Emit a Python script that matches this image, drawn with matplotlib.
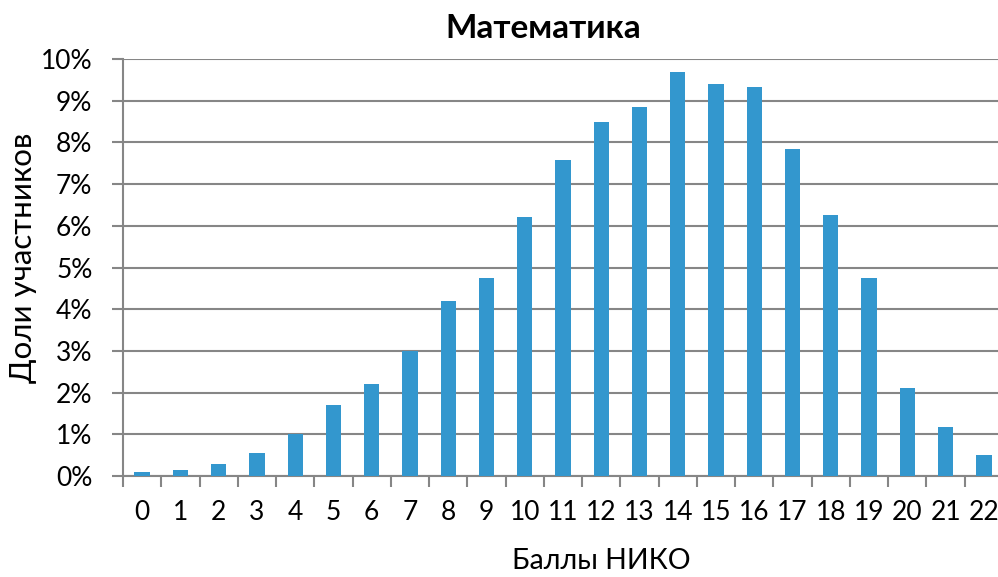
import matplotlib.pyplot as plt
import numpy as np
from matplotlib.ticker import FuncFormatter

plt.rcParams['font.family'] = ['Lato', 'DejaVu Sans']

# баллы и доли участников (%)
scores = list(range(23))
shares = [0.09, 0.15, 0.29, 0.54, 1.00, 1.70, 2.20, 3.00, 4.20, 4.75,
          6.20, 7.57, 8.48, 8.86, 9.70, 9.39, 9.33, 7.84, 6.27, 4.74,
          2.10, 1.17, 0.50]
y_ticks = list(range(0, 11))

title = "Математика"
x_label = "Баллы НИКО"
y_label = "Доли участников"

bar_color = '#3397CE'
grid_color = '#868686'

fig = plt.figure(figsize=(9.98, 5.77), dpi=100)
ax = fig.add_axes([123 / 998, 101 / 577, 880 / 998, 417 / 577])

x = np.arange(len(scores))
ax.bar(x, shares, width=0.4, color=bar_color, zorder=3)

ax.set_xlim(-0.5, len(scores) - 0.5)
ax.set_ylim(0, 10)
ax.set_yticks(y_ticks)
ax.yaxis.set_major_formatter(FuncFormatter(lambda v, p: f"{int(v)}%"))
ax.grid(axis='y', color=grid_color, linewidth=1.5, zorder=0)

# метки по центрам, засечки между категориями
ax.set_xticks(x)
ax.set_xticklabels([str(s) for s in scores])
ax.set_xticks(np.arange(-0.5, len(scores), 1), minor=True)
ax.tick_params(axis='x', which='major', length=0, pad=17, labelsize=19)
ax.tick_params(axis='x', which='minor', length=8, width=1.5, color=grid_color)
ax.tick_params(axis='y', length=8, width=1.5, color=grid_color, pad=14, labelsize=19)

for side in ['top', 'right']:
    ax.spines[side].set_visible(False)
for side in ['left', 'bottom']:
    ax.spines[side].set_color(grid_color)
    ax.spines[side].set_linewidth(1.5)

fig.text(543 / 998, 1 - 28 / 577, title, ha='center', va='center',
         fontsize=24, fontweight='bold')
fig.text(601 / 998, 1 - 561 / 577, x_label, ha='center', va='center', fontsize=20.5)
fig.text(23 / 998, 1 - 258 / 577, y_label, ha='center', va='center',
         fontsize=22.5, rotation=90)

fig.savefig('out.png', dpi=100)
